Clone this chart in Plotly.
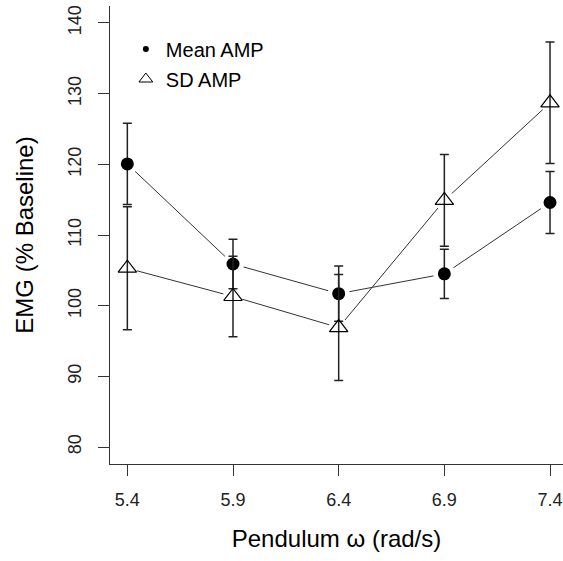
import plotly.graph_objects as go

# Data
omega = [5.4, 5.9, 6.4, 6.9, 7.4]
mean_amp = [120.05, 105.9, 101.7, 104.5, 114.6]
mean_err = [5.75, 3.5, 3.9, 3.5, 4.4]
sd_amp = [105.3, 101.3, 96.9, 114.9, 128.7]
sd_err = [8.7, 5.7, 7.5, 6.5, 8.6]
x_ticks = [5.4, 5.9, 6.4, 6.9, 7.4]
x_tick_text = ["5.4", "5.9", "6.4", "6.9", "7.4"]
y_ticks = [80, 90, 100, 110, 120, 130, 140]

FONT = "Liberation Sans, Arial, sans-serif"
INK = "#222222"

fig = go.Figure()

# connecting lines
for ys in (mean_amp, sd_amp):
    fig.add_trace(go.Scatter(x=omega, y=ys, mode="lines",
                             line=dict(color="#333333", width=1),
                             showlegend=False, hoverinfo="skip"))
# white masks to leave gaps around points (R type="b")
for ys, s in ((mean_amp, 22), (sd_amp, 20)):
    fig.add_trace(go.Scatter(x=omega, y=ys, mode="markers",
                             marker=dict(color="white", size=s, line=dict(width=0)),
                             showlegend=False, hoverinfo="skip"))

# points with error bars
fig.add_trace(go.Scatter(
    x=omega, y=mean_amp, mode="markers", name="Mean AMP", showlegend=False,
    marker=dict(symbol="circle", color="black", size=13, line=dict(width=0)),
    error_y=dict(type="data", array=mean_err, visible=True, color=INK,
                 thickness=1.5, width=4.5)))
fig.add_trace(go.Scatter(
    x=omega, y=sd_amp, mode="markers", name="SD AMP", showlegend=False,
    marker=dict(symbol="triangle-up-open", color="black", size=16,
                line=dict(width=1.2, color="black")),
    error_y=dict(type="data", array=sd_err, visible=True, color=INK,
                 thickness=1.5, width=4.5)))

# legend entries
fig.add_trace(go.Scatter(x=[None], y=[None], mode="markers", name="Mean AMP",
                         legend="legend",
                         marker=dict(symbol="circle", color="black", size=6)))
fig.add_trace(go.Scatter(x=[None], y=[None], mode="markers", name="SD AMP",
                         legend="legend2",
                         marker=dict(symbol="triangle-up-open", color="black", size=12,
                                     line=dict(width=1, color="black"))))

legend_common = dict(font=dict(family=FONT, size=20, color="black"),
                     bgcolor="rgba(0,0,0,0)", borderwidth=0,
                     xanchor="left", yanchor="middle", itemclick=False)

fig.update_layout(
    width=563, height=561,
    margin=dict(l=110, r=0, t=6, b=97),
    paper_bgcolor="white", plot_bgcolor="white",
    font=dict(family=FONT, color="black"),
    legend=dict(x=0.035, y=1 - (49 - 6) / 458, **legend_common),
    legend2=dict(x=0.035, y=1 - (79 - 6) / 458, **legend_common),
    xaxis=dict(range=[5.318, 7.4614], tickvals=x_ticks, ticktext=x_tick_text,
               showgrid=False, zeroline=False, showline=True, linecolor="#333333",
               linewidth=1, ticks="outside", ticklen=11, tickwidth=1,
               tickcolor="#333333", ticklabelstandoff=8,
               tickfont=dict(size=18, family=FONT, color="#222"),
               title=dict(text="Pendulum ω (rad/s)", font=dict(size=24, family=FONT),
                          standoff=21)),
    yaxis=dict(range=[77.6, 142.4], tickvals=y_ticks, tickangle=-90,
               showgrid=False, zeroline=False, showline=True, linecolor="#333333",
               linewidth=1, ticks="outside", ticklen=11, tickwidth=1,
               tickcolor="#333333", ticklabelstandoff=10,
               tickfont=dict(size=18, family=FONT, color="#222"),
               title=dict(text="EMG (% Baseline)", font=dict(size=24, family=FONT),
                          standoff=24)),
)

fig.write_html("out.html", config={"displayModeBar": False},
               post_script="document.body.style.margin='0px';")
